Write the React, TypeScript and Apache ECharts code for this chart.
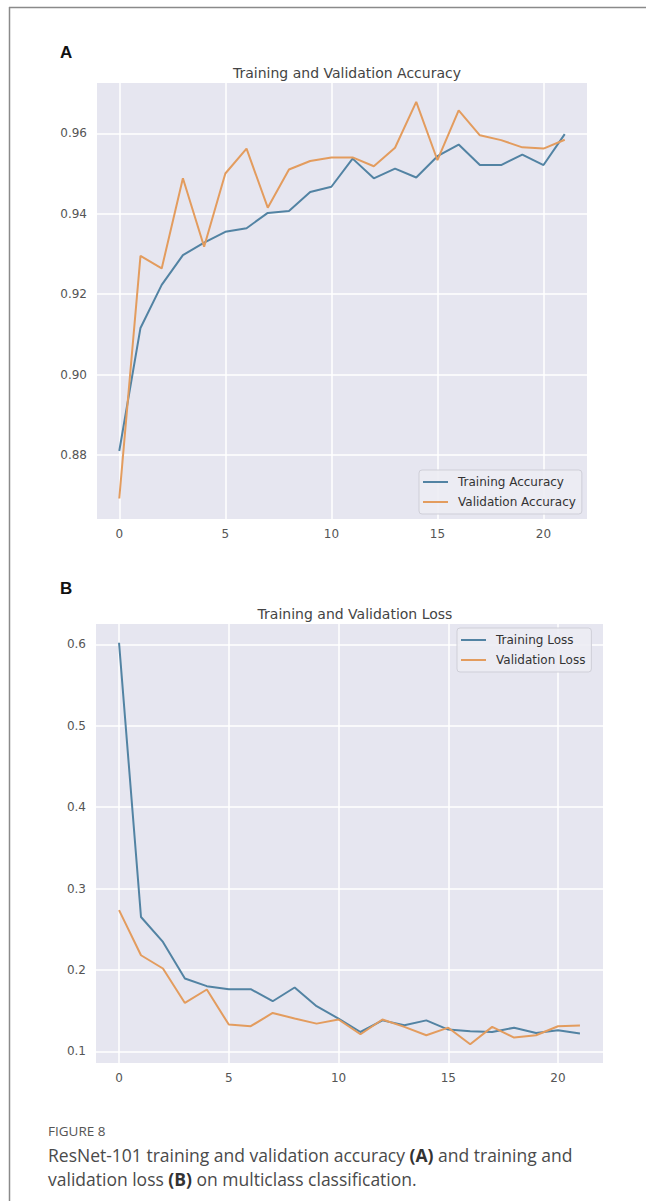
import React, { useEffect, useRef } from "react";
import * as echarts from "echarts";

const epochs = [0, 1, 2, 3, 4, 5, 6, 7, 8, 9, 10, 11, 12, 13, 14, 15, 16, 17, 18, 19, 20, 21];
const trainAcc = [0.881, 0.9116, 0.9223, 0.9297, 0.9328, 0.9355, 0.9364, 0.9402, 0.9407, 0.9454, 0.9467, 0.9537, 0.9488, 0.9512, 0.949, 0.9543, 0.9572, 0.9521, 0.9521, 0.9547, 0.9521, 0.9598];
const valAcc = [0.8692, 0.9295, 0.9264, 0.9488, 0.9318, 0.95, 0.9562, 0.9415, 0.951, 0.9531, 0.954, 0.954, 0.9518, 0.9564, 0.9678, 0.9533, 0.9657, 0.9595, 0.9583, 0.9565, 0.9562, 0.9584];
const trainLoss = [0.602, 0.265, 0.2344, 0.1894, 0.18, 0.1763, 0.1763, 0.1615, 0.1784, 0.1554, 0.1402, 0.1237, 0.138, 0.132, 0.138, 0.1267, 0.1246, 0.1237, 0.129, 0.1225, 0.1258, 0.1218];
const valLoss = [0.2734, 0.218, 0.2017, 0.1594, 0.1759, 0.1328, 0.1308, 0.1471, 0.1402, 0.134, 0.139, 0.1209, 0.139, 0.13, 0.1197, 0.129, 0.1086, 0.13, 0.1168, 0.1197, 0.1308, 0.1316];
const xTicks = [0, 5, 10, 15, 20];
const accTicks = [0.88, 0.9, 0.92, 0.94, 0.96];
const lossTicks = [0.1, 0.2, 0.3, 0.4, 0.5, 0.6];

const BLUE = "#5283a3";
const ORANGE = "#e39c5e";
const FONT = "DejaVu Sans";

export default function App() {
  const ref = useRef<HTMLDivElement>(null);
  useEffect(() => {
    if (!ref.current) return;
    const chart = echarts.init(ref.current, undefined, { renderer: "svg" });
    const pairs = (ys: number[]) => epochs.map((e, i) => [e, ys[i]]);
    const xAxisBase = (gridIndex: number) => ({
      type: "value" as const,
      gridIndex,
      min: -1.05,
      max: 22.05,
      axisLine: { show: false },
      axisTick: { show: false, customValues: xTicks },
      axisLabel: {
        customValues: xTicks,
        color: "#555",
        fontSize: 12,
        fontFamily: FONT,
        margin: 9,
      },
      splitLine: { show: true, lineStyle: { color: "#ffffff", width: 1.5 } },
    });
    const yAxisBase = (gridIndex: number, min: number, max: number, ticks: number[], dec: number) => ({
      type: "value" as const,
      gridIndex,
      min,
      max,
      axisLine: { show: false },
      axisTick: { show: false, customValues: ticks },
      axisLabel: {
        customValues: ticks,
        color: "#555",
        fontSize: 12,
        fontFamily: FONT,
        margin: 10,
        formatter: (v: number) => v.toFixed(dec),
      },
      splitLine: { show: true, lineStyle: { color: "#ffffff", width: 1.5 } },
    });
    const legendBase = {
      orient: "vertical" as const,
      itemWidth: 25,
      itemHeight: 2,
      itemGap: 8,
      icon: "rect",
      padding: [6, 6, 6, 4],
      backgroundColor: "rgba(236,236,243,0.9)",
      borderColor: "#cfcfd8",
      borderWidth: 1,
      borderRadius: 3,
      textStyle: { color: "#333", fontSize: 12, fontFamily: FONT, padding: [0, 0, 0, 5] },
    };
    const lineSeries = (name: string, ys: number[], color: string, idx: number) => ({
      name,
      type: "line" as const,
      xAxisIndex: idx,
      yAxisIndex: idx,
      data: pairs(ys),
      showSymbol: false,
      symbol: "none",
      lineStyle: { color, width: 2 },
      itemStyle: { color },
    });
    chart.setOption({
      animation: false,
      backgroundColor: "#ffffff",
      title: [
        {
          text: "Training and Validation Accuracy",
          left: 342,
          top: 61,
          textAlign: "center",
          textStyle: { color: "#444", fontSize: 14, fontWeight: "normal", fontFamily: FONT },
        },
        {
          text: "Training and Validation Loss",
          left: 350,
          top: 602,
          textAlign: "center",
          textStyle: { color: "#444", fontSize: 14, fontWeight: "normal", fontFamily: FONT },
        },
      ],
      grid: [
        { left: 97, top: 83, width: 490, height: 436, backgroundColor: "#e6e6f0", show: true, borderWidth: 0 },
        { left: 96, top: 624, width: 507, height: 439, backgroundColor: "#e6e6f0", show: true, borderWidth: 0 },
      ],
      xAxis: [xAxisBase(0), xAxisBase(1)],
      yAxis: [
        yAxisBase(0, 0.8641, 0.9725, accTicks, 2),
        yAxisBase(1, 0.0856, 0.625, lossTicks, 1),
      ],
      legend: [
        { ...legendBase, data: ["Training Accuracy", "Validation Accuracy"], left: 419, top: 470 },
        { ...legendBase, data: ["Training Loss", "Validation Loss"], left: 457, top: 628 },
      ],
      series: [
        lineSeries("Training Accuracy", trainAcc, BLUE, 0),
        lineSeries("Validation Accuracy", valAcc, ORANGE, 0),
        lineSeries("Training Loss", trainLoss, BLUE, 1),
        lineSeries("Validation Loss", valLoss, ORANGE, 1),
      ],
      graphic: [
        { type: "line", shape: { x1: 9, y1: 7.5, x2: 646, y2: 7.5 }, style: { stroke: "#8a8a8a", lineWidth: 1.5 } },
        { type: "line", shape: { x1: 9.5, y1: 7, x2: 9.5, y2: 1201 }, style: { stroke: "#8a8a8a", lineWidth: 1.5 } },
        {
          type: "text",
          x: 60,
          y: 52,
          style: { text: "A", font: "bold 17px 'Liberation Sans', Arial, sans-serif", fill: "#111", textVerticalAlign: "middle" },
        },
        {
          type: "text",
          x: 60,
          y: 588,
          style: { text: "B", font: "bold 17px 'Liberation Sans', Arial, sans-serif", fill: "#111", textVerticalAlign: "middle" },
        },
        {
          type: "text",
          x: 48,
          y: 1131,
          style: { text: "FIGURE 8", font: "13.5px 'Open Sans', sans-serif", fill: "#555", textVerticalAlign: "middle" },
        },
        {
          type: "text",
          x: 48,
          y: 1143,
          style: {
            text: "ResNet-101 training and validation accuracy {b|(A)} and training and\nvalidation loss {b|(B)} on multiclass classification.",
            font: "17.5px 'Open Sans', sans-serif",
            fill: "#4a4a4a",
            lineHeight: 24,
            rich: {
              b: { fontWeight: "bold", fontSize: 17.5, fontFamily: "Open Sans", fill: "#333", lineHeight: 24 },
            },
          },
        },
      ],
    });
    return () => chart.dispose();
  }, []);
  return (
    <div
      ref={ref}
      style={{ position: "absolute", left: 0, top: 0, width: 646, height: 1201 }}
    />
  );
}
